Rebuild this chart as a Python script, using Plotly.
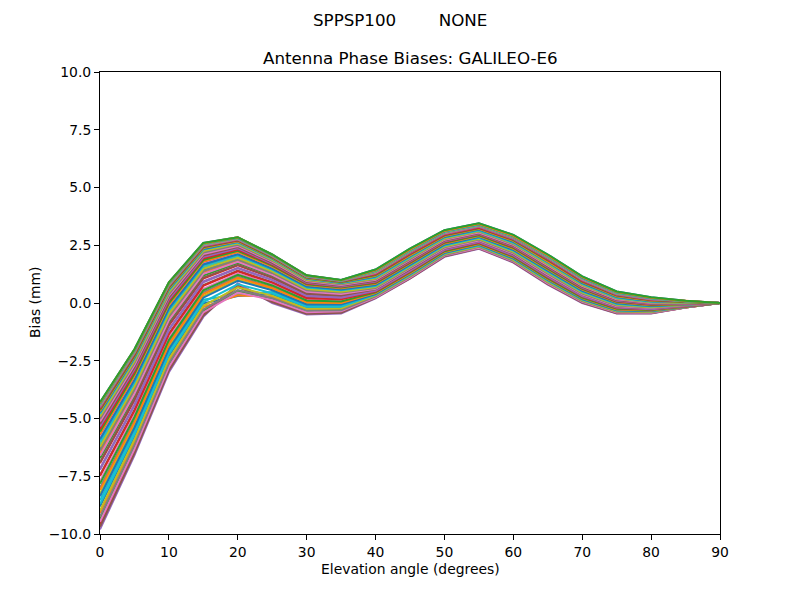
import plotly.graph_objects as go

# Elevation angles (degrees) of the x axis
elevations = [0, 5, 10, 15, 20, 25, 30, 35, 40, 45, 50, 55, 60, 65, 70, 75, 80, 85, 90]

# Azimuths (degrees), one curve per azimuth
azimuths = list(range(0, 365, 5))

# Bias (mm) per elevation, listed across azimuth 0..360 step 5
el_00 = [-4.30, -4.41, -4.52, -4.58, -4.63, -4.69, -4.74, -4.85, -4.96, -5.07,
         -5.18, -5.29, -5.40, -5.51, -5.62, -5.73, -5.84, -5.95, -6.06, -6.17,
         -6.34, -6.50, -6.72, -6.94, -7.16, -7.44, -7.71, -7.99, -8.26, -8.54,
         -8.81, -9.09, -9.36, -9.58, -9.80, -9.69, -9.47, -9.25, -8.98, -8.70,
         -8.37, -8.10, -7.82, -7.49, -7.22, -6.89, -6.61, -6.39, -6.23, -6.01,
         -5.90, -5.68, -5.57, -5.46, -5.35, -5.24, -5.13, -5.02, -4.91, -4.80,
         -4.74, -4.69, -4.63, -4.58, -4.52, -4.49, -4.47, -4.44, -4.41, -4.38,
         -4.36, -4.33, -4.30]
el_05 = [-2.00, -2.09, -2.18, -2.23, -2.28, -2.32, -2.37, -2.46, -2.55, -2.64,
         -2.74, -2.83, -2.92, -3.01, -3.10, -3.20, -3.29, -3.38, -3.47, -3.56,
         -3.70, -3.84, -4.02, -4.21, -4.39, -4.62, -4.85, -5.08, -5.31, -5.54,
         -5.77, -6.00, -6.23, -6.42, -6.60, -6.51, -6.32, -6.14, -5.91, -5.68,
         -5.40, -5.17, -4.94, -4.67, -4.44, -4.16, -3.93, -3.75, -3.61, -3.43,
         -3.33, -3.15, -3.06, -2.97, -2.87, -2.78, -2.69, -2.60, -2.51, -2.41,
         -2.37, -2.32, -2.28, -2.23, -2.18, -2.16, -2.14, -2.12, -2.09, -2.07,
         -2.05, -2.02, -2.00]
el_10 = [0.90, 0.82, 0.74, 0.71, 0.67, 0.63, 0.59, 0.51, 0.43, 0.35,
         0.28, 0.20, 0.12, 0.04, -0.04, -0.11, -0.19, -0.27, -0.35, -0.43,
         -0.54, -0.66, -0.82, -0.97, -1.13, -1.32, -1.52, -1.71, -1.91, -2.10,
         -2.30, -2.49, -2.69, -2.84, -3.00, -2.92, -2.77, -2.61, -2.42, -2.22,
         -1.99, -1.79, -1.60, -1.36, -1.17, -0.93, -0.74, -0.58, -0.47, -0.31,
         -0.23, -0.08, 0.00, 0.08, 0.16, 0.24, 0.32, 0.39, 0.47, 0.55,
         0.59, 0.63, 0.67, 0.71, 0.74, 0.76, 0.78, 0.80, 0.82, 0.84,
         0.86, 0.88, 0.90]
el_15 = [2.60, 2.54, 2.47, 2.44, 2.41, 2.38, 2.34, 2.28, 2.22, 2.15,
         2.09, 2.02, 1.96, 1.90, 1.83, 1.77, 1.70, 1.64, 1.58, 1.51,
         1.42, 1.32, 1.19, 1.06, 0.94, 0.78, 0.62, 0.46, 0.30, 0.14,
         -0.02, -0.18, -0.34, -0.47, -0.60, -0.54, -0.41, -0.28, -0.12, 0.04,
         0.23, 0.39, 0.55, 0.74, 0.90, 1.10, 1.26, 1.38, 1.48, 1.61,
         1.67, 1.80, 1.86, 1.93, 1.99, 2.06, 2.12, 2.18, 2.25, 2.31,
         2.34, 2.38, 2.41, 2.44, 2.47, 2.49, 2.50, 2.52, 2.54, 2.55,
         2.57, 2.58, 2.60]
el_20 = [2.85, 2.80, 2.75, 2.72, 2.70, 2.67, 2.65, 2.60, 2.54, 2.49,
         2.44, 2.39, 2.34, 2.29, 2.24, 2.19, 2.14, 2.09, 2.03, 1.98,
         1.91, 1.83, 1.73, 1.63, 1.52, 1.40, 1.27, 1.14, 1.01, 0.38,
         0.30, 0.33, 0.50, 0.78, 0.86, 0.70, 0.45, 0.56, 0.68, 0.81,
         0.96, 1.09, 1.22, 1.37, 1.50, 1.65, 1.78, 1.88, 1.96, 2.06,
         2.11, 2.21, 2.26, 2.31, 2.37, 2.42, 2.47, 2.52, 2.57, 2.62,
         2.65, 2.67, 2.70, 2.72, 2.75, 2.76, 2.77, 2.79, 2.80, 2.81,
         2.82, 2.84, 2.85]
el_25 = [2.10, 2.06, 2.02, 2.00, 1.97, 1.95, 1.93, 1.89, 1.85, 1.81,
         1.76, 1.72, 1.68, 1.64, 1.60, 1.55, 1.51, 1.47, 1.43, 1.39,
         1.32, 1.26, 1.18, 1.09, 1.01, 0.90, 0.80, 0.69, 0.59, 0.48,
         0.38, 0.27, 0.17, 0.08, 0.00, 0.04, 0.13, 0.21, 0.32, 0.42,
         0.55, 0.65, 0.76, 0.88, 0.99, 1.11, 1.22, 1.30, 1.37, 1.45,
         1.49, 1.58, 1.62, 1.66, 1.70, 1.74, 1.79, 1.83, 1.87, 1.91,
         1.93, 1.95, 1.97, 2.00, 2.02, 2.03, 2.04, 2.05, 2.06, 2.07,
         2.08, 2.09, 2.10]
el_30 = [1.20, 1.17, 1.13, 1.12, 1.10, 1.08, 1.06, 1.03, 1.00, 0.96,
         0.93, 0.89, 0.86, 0.83, 0.79, 0.76, 0.72, 0.69, 0.66, 0.62,
         0.57, 0.52, 0.45, 0.38, 0.32, 0.23, 0.15, 0.06, -0.02, -0.11,
         -0.19, -0.28, -0.36, -0.43, -0.50, -0.47, -0.40, -0.33, -0.25, -0.16,
         -0.06, 0.03, 0.11, 0.21, 0.30, 0.40, 0.49, 0.55, 0.61, 0.67,
         0.71, 0.78, 0.81, 0.84, 0.88, 0.91, 0.95, 0.98, 1.01, 1.05,
         1.06, 1.08, 1.10, 1.12, 1.13, 1.14, 1.15, 1.16, 1.17, 1.17,
         1.18, 1.19, 1.20]
el_35 = [1.00, 0.97, 0.94, 0.93, 0.91, 0.90, 0.88, 0.86, 0.83, 0.80,
         0.77, 0.74, 0.71, 0.68, 0.65, 0.62, 0.59, 0.57, 0.54, 0.51,
         0.46, 0.42, 0.36, 0.30, 0.25, 0.17, 0.10, 0.03, -0.04, -0.12,
         -0.19, -0.26, -0.33, -0.39, -0.45, -0.42, -0.36, -0.31, -0.23, -0.16,
         -0.07, 0.00, 0.07, 0.16, 0.23, 0.32, 0.39, 0.45, 0.49, 0.55,
         0.58, 0.64, 0.67, 0.70, 0.72, 0.75, 0.78, 0.81, 0.84, 0.87,
         0.88, 0.90, 0.91, 0.93, 0.94, 0.95, 0.96, 0.96, 0.97, 0.98,
         0.99, 0.99, 1.00]
el_40 = [1.45, 1.35, 1.26, 1.23, 1.19, 1.15, 1.13, 1.09, 1.05, 1.01,
         0.99, 0.95, 0.91, 0.88, 0.84, 0.81, 0.79, 0.75, 0.73, 0.70,
         0.68, 0.64, 0.60, 0.56, 0.55, 0.51, 0.48, 0.44, 0.41, 0.38,
         0.34, 0.30, 0.28, 0.24, 0.20, 0.22, 0.25, 0.29, 0.33, 0.36,
         0.39, 0.43, 0.46, 0.50, 0.53, 0.59, 0.61, 0.65, 0.69, 0.74,
         0.78, 0.83, 0.86, 0.90, 0.93, 0.96, 1.00, 1.04, 1.06, 1.10,
         1.14, 1.18, 1.21, 1.24, 1.28, 1.30, 1.31, 1.33, 1.36, 1.38,
         1.40, 1.41, 1.45]
el_45 = [2.35, 2.25, 2.16, 2.12, 2.08, 2.04, 2.01, 1.97, 1.93, 1.90,
         1.87, 1.83, 1.79, 1.75, 1.71, 1.69, 1.66, 1.62, 1.60, 1.57,
         1.54, 1.51, 1.47, 1.43, 1.41, 1.38, 1.34, 1.30, 1.27, 1.23,
         1.19, 1.15, 1.13, 1.09, 1.05, 1.07, 1.10, 1.14, 1.18, 1.22,
         1.25, 1.28, 1.32, 1.36, 1.39, 1.45, 1.48, 1.52, 1.56, 1.61,
         1.65, 1.70, 1.74, 1.78, 1.80, 1.84, 1.88, 1.92, 1.95, 1.99,
         2.03, 2.06, 2.10, 2.13, 2.17, 2.19, 2.21, 2.22, 2.26, 2.27,
         2.30, 2.31, 2.35]
el_50 = [3.15, 3.06, 2.98, 2.94, 2.91, 2.87, 2.85, 2.82, 2.78, 2.75,
         2.72, 2.69, 2.66, 2.62, 2.59, 2.56, 2.54, 2.51, 2.48, 2.46,
         2.44, 2.40, 2.37, 2.33, 2.32, 2.29, 2.25, 2.22, 2.20, 2.16,
         2.13, 2.09, 2.07, 2.03, 2.00, 2.02, 2.05, 2.08, 2.12, 2.15,
         2.17, 2.21, 2.24, 2.28, 2.30, 2.36, 2.38, 2.41, 2.45, 2.49,
         2.53, 2.58, 2.61, 2.64, 2.67, 2.70, 2.74, 2.77, 2.79, 2.83,
         2.86, 2.90, 2.93, 2.95, 2.99, 3.01, 3.02, 3.04, 3.07, 3.08,
         3.10, 3.12, 3.15]
el_55 = [3.45, 3.36, 3.29, 3.25, 3.22, 3.19, 3.16, 3.13, 3.10, 3.07,
         3.04, 3.01, 2.98, 2.94, 2.91, 2.89, 2.87, 2.83, 2.81, 2.79,
         2.77, 2.74, 2.70, 2.67, 2.66, 2.63, 2.59, 2.56, 2.54, 2.50,
         2.47, 2.44, 2.42, 2.38, 2.35, 2.37, 2.39, 2.43, 2.46, 2.49,
         2.52, 2.55, 2.58, 2.61, 2.64, 2.69, 2.71, 2.75, 2.78, 2.82,
         2.86, 2.90, 2.93, 2.97, 2.99, 3.02, 3.05, 3.09, 3.11, 3.14,
         3.18, 3.21, 3.24, 3.26, 3.30, 3.32, 3.33, 3.34, 3.37, 3.38,
         3.41, 3.42, 3.45]
el_60 = [2.95, 2.85, 2.77, 2.73, 2.70, 2.66, 2.64, 2.60, 2.57, 2.53,
         2.51, 2.47, 2.43, 2.40, 2.36, 2.34, 2.31, 2.28, 2.25, 2.23,
         2.21, 2.17, 2.13, 2.10, 2.09, 2.05, 2.01, 1.98, 1.95, 1.92,
         1.88, 1.85, 1.82, 1.79, 1.75, 1.77, 1.80, 1.83, 1.87, 1.91,
         1.93, 1.97, 2.00, 2.04, 2.06, 2.12, 2.15, 2.18, 2.22, 2.27,
         2.30, 2.35, 2.39, 2.42, 2.45, 2.48, 2.52, 2.55, 2.58, 2.61,
         2.65, 2.69, 2.72, 2.75, 2.78, 2.81, 2.82, 2.83, 2.87, 2.88,
         2.90, 2.91, 2.95]
el_65 = [2.10, 2.00, 1.91, 1.87, 1.83, 1.79, 1.76, 1.72, 1.68, 1.65,
         1.62, 1.58, 1.54, 1.50, 1.46, 1.44, 1.41, 1.37, 1.35, 1.32,
         1.29, 1.26, 1.22, 1.18, 1.16, 1.13, 1.09, 1.05, 1.02, 0.98,
         0.94, 0.90, 0.88, 0.84, 0.80, 0.82, 0.85, 0.89, 0.93, 0.97,
         1.00, 1.03, 1.07, 1.11, 1.14, 1.20, 1.23, 1.27, 1.31, 1.36,
         1.40, 1.45, 1.49, 1.53, 1.55, 1.59, 1.63, 1.67, 1.70, 1.74,
         1.78, 1.81, 1.85, 1.88, 1.92, 1.94, 1.96, 1.97, 2.01, 2.02,
         2.05, 2.06, 2.10]
el_70 = [1.15, 1.06, 0.98, 0.94, 0.91, 0.87, 0.85, 0.82, 0.78, 0.75,
         0.72, 0.69, 0.66, 0.62, 0.59, 0.56, 0.54, 0.51, 0.48, 0.46,
         0.44, 0.40, 0.37, 0.33, 0.32, 0.29, 0.25, 0.22, 0.20, 0.16,
         0.13, 0.09, 0.07, 0.03, 0.00, 0.02, 0.05, 0.08, 0.12, 0.15,
         0.17, 0.21, 0.24, 0.28, 0.30, 0.36, 0.38, 0.41, 0.45, 0.49,
         0.53, 0.58, 0.61, 0.64, 0.67, 0.70, 0.74, 0.77, 0.79, 0.83,
         0.86, 0.90, 0.93, 0.95, 0.99, 1.01, 1.02, 1.04, 1.07, 1.08,
         1.10, 1.12, 1.15]
el_75 = [0.50, 0.42, 0.36, 0.33, 0.30, 0.27, 0.25, 0.22, 0.20, 0.17,
         0.15, 0.12, 0.09, 0.06, 0.03, 0.02, 0.00, -0.03, -0.05, -0.07,
         -0.09, -0.12, -0.15, -0.17, -0.18, -0.21, -0.24, -0.27, -0.29, -0.32,
         -0.35, -0.37, -0.39, -0.42, -0.45, -0.44, -0.41, -0.38, -0.36, -0.33,
         -0.31, -0.28, -0.25, -0.22, -0.20, -0.16, -0.14, -0.11, -0.08, -0.04,
         -0.01, 0.03, 0.05, 0.08, 0.10, 0.13, 0.16, 0.19, 0.21, 0.23,
         0.26, 0.29, 0.32, 0.34, 0.37, 0.39, 0.40, 0.41, 0.43, 0.44,
         0.46, 0.47, 0.50]
el_80 = [0.25, 0.19, 0.15, 0.12, 0.10, 0.08, 0.07, 0.05, 0.03, 0.01,
         -0.01, -0.03, -0.05, -0.07, -0.09, -0.11, -0.12, -0.14, -0.16, -0.17,
         -0.18, -0.21, -0.23, -0.25, -0.25, -0.28, -0.30, -0.32, -0.33, -0.35,
         -0.37, -0.39, -0.41, -0.43, -0.45, -0.44, -0.42, -0.40, -0.38, -0.36,
         -0.35, -0.32, -0.30, -0.28, -0.27, -0.23, -0.22, -0.20, -0.18, -0.15,
         -0.13, -0.10, -0.08, -0.06, -0.04, -0.02, 0.00, 0.02, 0.03, 0.05,
         0.08, 0.10, 0.12, 0.13, 0.15, 0.17, 0.17, 0.18, 0.20, 0.21,
         0.22, 0.23, 0.25]
el_85 = [0.10, 0.08, 0.06, 0.05, 0.04, 0.03, 0.02, 0.01, 0.00, -0.01,
         -0.01, -0.02, -0.03, -0.04, -0.05, -0.05, -0.06, -0.07, -0.07, -0.08,
         -0.09, -0.10, -0.10, -0.11, -0.12, -0.13, -0.13, -0.14, -0.15, -0.16,
         -0.17, -0.18, -0.18, -0.19, -0.20, -0.20, -0.19, -0.18, -0.17, -0.16,
         -0.16, -0.15, -0.14, -0.13, -0.12, -0.11, -0.10, -0.09, -0.08, -0.07,
         -0.06, -0.05, -0.04, -0.03, -0.03, -0.02, -0.01, 0.00, 0.01, 0.02,
         0.03, 0.03, 0.04, 0.05, 0.06, 0.06, 0.07, 0.07, 0.08, 0.08,
         0.09, 0.09, 0.10]
el_90 = [0.0, 0.0, 0.0, 0.0, 0.0, 0.0, 0.0, 0.0, 0.0, 0.0,
         0.0, 0.0, 0.0, 0.0, 0.0, 0.0, 0.0, 0.0, 0.0, 0.0,
         0.0, 0.0, 0.0, 0.0, 0.0, 0.0, 0.0, 0.0, 0.0, 0.0,
         0.0, 0.0, 0.0, 0.0, 0.0, 0.0, 0.0, 0.0, 0.0, 0.0,
         0.0, 0.0, 0.0, 0.0, 0.0, 0.0, 0.0, 0.0, 0.0, 0.0,
         0.0, 0.0, 0.0, 0.0, 0.0, 0.0, 0.0, 0.0, 0.0, 0.0,
         0.0, 0.0, 0.0, 0.0, 0.0, 0.0, 0.0, 0.0, 0.0, 0.0,
         0.0, 0.0, 0.0]

x_tick_values = [0, 10, 20, 30, 40, 50, 60, 70, 80, 90]
y_tick_values = [-10.0, -7.5, -5.0, -2.5, 0.0, 2.5, 5.0, 7.5, 10.0]
y_tick_labels = ["\u221210.0", "\u22127.5", "\u22125.0", "\u22122.5", "0.0", "2.5", "5.0", "7.5", "10.0"]

suptitle = "SPPSP100        NONE"
axes_title = "Antenna Phase Biases: GALILEO-E6"
x_label = "Elevation angle (degrees)"
y_label = "Bias (mm)"

colors = ["#1f77b4", "#ff7f0e", "#2ca02c", "#d62728", "#9467bd",
          "#8c564b", "#e377c2", "#7f7f7f", "#bcbd22", "#17becf"]

columns = [el_00, el_05, el_10, el_15, el_20, el_25, el_30, el_35, el_40, el_45,
           el_50, el_55, el_60, el_65, el_70, el_75, el_80, el_85, el_90]

fig = go.Figure()
for i, az in enumerate(azimuths):
    fig.add_trace(go.Scatter(
        x=elevations,
        y=[col[i] for col in columns],
        mode="lines",
        line=dict(color=colors[i % len(colors)], width=2),
        name=f"az {az}",
        showlegend=False,
        hoverinfo="skip",
    ))

FONT = "DejaVu Sans"
axis_common = dict(
    showline=True, linecolor="black", linewidth=1, mirror=True,
    ticks="outside", ticklen=5, tickwidth=1, tickcolor="black",
    showgrid=False, zeroline=False,
    tickfont=dict(family=FONT, size=13.9, color="black"),
)
fig.update_layout(
    width=800, height=600,
    margin=dict(l=100, r=80, t=72, b=66),
    paper_bgcolor="white", plot_bgcolor="white",
    font=dict(family=FONT, color="black"),
    xaxis=dict(range=[0, 90], tickvals=x_tick_values, **axis_common),
    yaxis=dict(range=[-10, 10], tickvals=y_tick_values, ticktext=y_tick_labels, **axis_common),
    annotations=[
        dict(text=suptitle, x=0.4838, y=1 + (72 - 20) / 462, xref="paper", yref="paper",
             showarrow=False, xanchor="center", yanchor="middle",
             font=dict(family=FONT, size=16.7, color="black")),
        dict(text=axes_title, x=0.5, y=1 + (72 - 58) / 462, xref="paper", yref="paper",
             showarrow=False, xanchor="center", yanchor="middle",
             font=dict(family=FONT, size=16.7, color="black")),
        dict(text=x_label, x=0.5, y=-(569 - 534) / 462, xref="paper", yref="paper",
             showarrow=False, xanchor="center", yanchor="middle",
             font=dict(family=FONT, size=13.9, color="black")),
        dict(text=y_label, x=(35 - 100) / 620, y=0.5, xref="paper", yref="paper",
             showarrow=False, xanchor="center", yanchor="middle", textangle=-90,
             font=dict(family=FONT, size=13.9, color="black")),
    ],
)

fig.write_html("out.html", config={"displayModeBar": False},
               post_script="document.body.style.margin='0';document.body.style.overflow='hidden';")
